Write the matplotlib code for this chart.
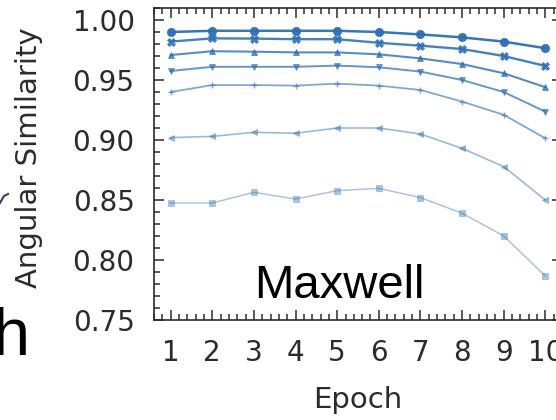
import matplotlib
matplotlib.use('Agg')
import matplotlib.pyplot as plt
from matplotlib.ticker import MultipleLocator, FormatStrFormatter
from matplotlib.lines import Line2D

# ── data ────────────────────────────────────────────────────
epochs = [1, 2, 3, 4, 5, 6, 7, 8, 9, 10]
sim_circle = [0.990, 0.991, 0.991, 0.991, 0.991, 0.990, 0.988, 0.9855, 0.982, 0.9765]
sim_cross  = [0.982, 0.9847, 0.9845, 0.984, 0.984, 0.981, 0.9786, 0.9758, 0.970, 0.9617]
sim_up     = [0.9708, 0.974, 0.9736, 0.973, 0.973, 0.9714, 0.968, 0.9633, 0.9556, 0.944]
sim_down   = [0.9575, 0.961, 0.961, 0.961, 0.962, 0.9606, 0.957, 0.950, 0.940, 0.9236]
sim_plus   = [0.940, 0.9458, 0.9458, 0.9453, 0.947, 0.9453, 0.9417, 0.932, 0.921, 0.9014]
sim_left   = [0.902, 0.903, 0.9064, 0.9056, 0.910, 0.910, 0.905, 0.893, 0.8778, 0.850]
sim_square = [0.8475, 0.8475, 0.8564, 0.8508, 0.8578, 0.8597, 0.852, 0.839, 0.820, 0.7867]

series  = [sim_circle, sim_cross, sim_up, sim_down, sim_plus, sim_left, sim_square]
markers = ['o', 'X', '^', 'v', '+', '<', 's']
alphas  = [0.95, 0.88, 0.8, 0.72, 0.6, 0.48, 0.4]
widths  = [1.8, 1.7, 1.5, 1.4, 1.3, 1.2, 1.1]
msizes  = [6, 6, 5, 5, 5, 4.5, 5]
blue = '#2c6fb5'
ink = '#2b2b2b'

fig = plt.figure(figsize=(5.56, 4.2), dpi=100)
ax = fig.add_axes([154 / 556, 1 - 320 / 420, 408 / 556, 312 / 420])

for vals, m, a, lw, ms in zip(series, markers, alphas, widths, msizes):
    ax.plot(epochs, vals, color=blue, alpha=a, marker=m, markersize=ms,
            linewidth=lw, markeredgewidth=1.0 if m == '+' else 0.5)

ax.set_xlim(0.6, 10.4)
ax.set_ylim(0.75, 1.01)
ax.xaxis.set_major_locator(MultipleLocator(1))
ax.xaxis.set_minor_locator(MultipleLocator(0.2))
ax.yaxis.set_major_locator(MultipleLocator(0.05))
ax.yaxis.set_minor_locator(MultipleLocator(0.01))
ax.yaxis.set_major_formatter(FormatStrFormatter('%.2f'))

ax.tick_params(which='both', direction='in', top=True, right=True,
               width=1.1, colors=ink)
ax.tick_params(which='major', length=7.5, labelsize=20, pad=14)
ax.tick_params(which='minor', length=4)
for sp in ax.spines.values():
    sp.set_linewidth(1.2)
    sp.set_color(ink)

ax.set_xlabel('Epoch', fontsize=21, color=ink)
ax.set_ylabel('Angular Similarity', fontsize=21, color=ink)
ax.xaxis.set_label_coords(0.5, -0.213)
ax.yaxis.set_label_coords(-0.272, 0.52)

# overlaid panel title and fragments of neighbouring panels
fig.text(254.5 / 556, 1 - 298 / 420, 'Maxwell', family='Liberation Sans',
         fontsize=34, color='black', ha='left', va='baseline')
fig.text(-8 / 556, 1 - 355 / 420, 'h', family='Liberation Sans',
         fontsize=48, color='black', ha='left', va='baseline')
fig.add_artist(Line2D([0 / 556, 4 / 556, 8 / 556],
                      [1 - 203 / 420, 1 - 196 / 420, 1 - 194 / 420],
                      color='#34405a', linewidth=1.5))

fig.savefig('out.png', dpi=100)
